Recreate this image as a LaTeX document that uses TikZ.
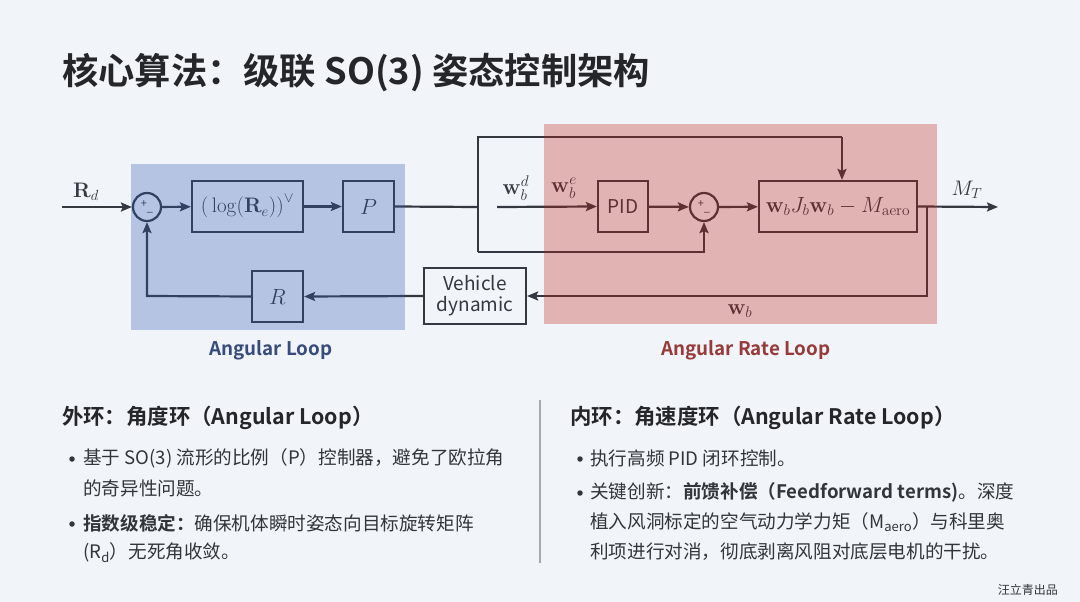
\RequirePackage{fix-cm}
\documentclass[tikz,border=0pt]{standalone}
\usepackage[no-math]{fontspec}
\setmainfont{Noto Sans CJK SC}[BoldFont={Noto Sans CJK SC Bold}]
\usetikzlibrary{arrows.meta}
\definecolor{bg}{RGB}{241,244,248}
\definecolor{ink}{RGB}{52,56,64}
\definecolor{txt}{RGB}{36,38,42}
\definecolor{bodytxt}{RGB}{50,53,58}
\definecolor{blueov}{RGB}{45,88,178}
\definecolor{redov}{RGB}{194,30,20}
\definecolor{bluelab}{RGB}{55,75,125}
\definecolor{redlab}{RGB}{150,58,58}
\definecolor{divider}{RGB}{165,168,174}
\newcommand{\fs}[1]{\fontsize{#1}{#1}\selectfont}
\begin{document}
\begin{tikzpicture}[x=1pt,y=-1pt,
  line/.style={draw=ink, line width=2.2pt},
  arr/.style={line, -{Stealth[length=11pt,width=9pt,inset=2pt]}},
  blk/.style={draw=ink, line width=2.2pt, minimum height=51pt, inner sep=0pt, text=ink},
  sumc/.style={draw=ink, line width=2.2pt, circle, minimum size=28pt, inner sep=0pt, text=ink, font=\fs{11}},
  lab/.style={text=ink, inner sep=0pt},
  head/.style={anchor=west, text=txt, font=\bfseries\fs{21.4}, inner sep=0pt},
  body/.style={anchor=west, text=bodytxt, font=\fs{18.6}, inner sep=0pt},
  dot/.style={circle, fill=bodytxt, minimum size=5.5pt, inner sep=0pt},
]
\useasboundingbox (0,0) rectangle (1080,602);
\fill[bg] (0,0) rectangle (1080,602);

% title
\node[anchor=west, text=txt, font=\bfseries\fs{36.3}, inner sep=0pt] (title) at (62,73) {核心算法：级联 SO(3) 姿态控制架构};

% blocks
\node[sumc] (s1) at (147,207) {+\raisebox{-4pt}{\_}};
\node[blk, minimum width=111pt, font=\fs{21}] (logb) at (247.5,206.5) {$\big(\log(\mathbf{R}_e)\big)^{\vee}$};
\node[blk, minimum width=51pt, font=\fs{22}] (pb) at (368.5,206.5) {$P$};
\node[blk, minimum width=51pt, font=\fs{22}] (rb) at (277.5,296.5) {$R$};
\node[blk, minimum width=102pt, minimum height=56pt, align=center, font=\fs{19}] (veh) at (475,296) {Vehicle\\[2pt]dynamic};
\node[blk, minimum width=50pt, font=\fs{19}] (pid) at (623,206.5) {PID};
\node[sumc] (s2) at (704,207) {+\raisebox{-4pt}{\_}};
\node[blk, minimum width=158pt, font=\fs{22}] (mainb) at (838,206.5) {$\mathbf{w}_b J_b \mathbf{w}_b - M_{\mathrm{aero}}$};

% coordinates
\coordinate (in) at (62,207);
\coordinate (j1) at (478,207);
\coordinate (tl) at (478,137);
\coordinate (tr) at (842,137);
\coordinate (bl) at (478,252);
\coordinate (wd) at (497,207);
\coordinate (out) at (998,207);
\coordinate (j2) at (927,207);
\coordinate (j2b) at (927,296);
\coordinate (fb) at (147,296);

% connectors
\draw[arr] (in) -- (s1);
\draw[arr] (s1) -- (logb);
\draw[arr] (logb) -- (pb);
\draw[line] (pb.east) -- (j1);
\draw[line] (bl) -- (tl) -- (tr);
\draw[arr] (tr) -- (tr |- mainb.north);
\draw[arr] (bl) -| (s2.south);
\draw[arr] (wd) -- (pid.west);
\draw[arr] (pid) -- (s2);
\draw[arr] (s2) -- (mainb);
\draw[arr] (mainb.east) -- (out);
\draw[arr] (j2) -- (j2b) -- (veh.east);
\draw[arr] (veh.west) -- (rb.east);
\draw[arr] (rb.west) -- (fb) -- (s1.south);

% labels
\node[lab, font=\fs{21}] (lrd) at (86,192) {$\mathbf{R}_d$};
\node[lab, font=\fs{22}] (lwd) at (516,188) {$\mathbf{w}_b^d$};
\node[lab, font=\fs{22}] (lwe) at (564,188) {$\mathbf{w}_b^e$};
\node[lab, font=\fs{21}] (lmt) at (967,190) {$M_T$};
\node[lab, font=\fs{22}] (lwb) at (740,311) {$\mathbf{w}_b$};

% overlays
\fill[blueov, fill opacity=0.3] (131,164) rectangle (405,330);
\fill[redov, fill opacity=0.3] (544,124) rectangle (937,324);

\node[text=bluelab, font=\bfseries\fs{18.8}, inner sep=0pt] (lal) at (271,350) {Angular Loop};
\node[text=redlab, font=\bfseries\fs{18.8}, inner sep=0pt] (lar) at (746,350) {Angular Rate Loop};

% divider
\draw[divider, line width=1.5pt] (540,400) -- (540,563);

% left text
\node[head] (h1) at (62,418) {外环：角度环（Angular Loop）};
\node[dot] (b1) at (72,459) {};
\node[body] (t1a) at (83,458) {基于 SO(3) 流形的比例（P）控制器，避免了欧拉角};
\node[body] (t1b) at (83,488) {的奇异性问题。};
\node[dot] (b2) at (72,524) {};
\node[body] (t2a) at (83,523) {\textbf{指数级稳定：}确保机体瞬时姿态向目标旋转矩阵};
\node[body] (t2b) at (83,553) {(R\textsubscript{d}）无死角收敛。};

% right text
\node[head] (h2) at (570,418) {内环：角速度环（Angular Rate Loop）};
\node[dot] (b3) at (580,459) {};
\node[body] (t3a) at (590,458) {执行高频 PID 闭环控制。};
\node[dot] (b4) at (580,493) {};
\node[body] (t4a) at (590,492) {关键创新：\textbf{前馈补偿（Feedforward terms)}。深度};
\node[body] (t4b) at (590,522) {植入风洞标定的空气动力学力矩（M\textsubscript{aero}）与科里奥};
\node[body] (t4c) at (590,552) {利项进行对消，彻底剥离风阻对底层电机的干扰。};

\node[anchor=east, text=bodytxt, font=\fs{12}, inner sep=0pt] (wm) at (1058,590) {汪立青出品};
\end{tikzpicture}
\end{document}
